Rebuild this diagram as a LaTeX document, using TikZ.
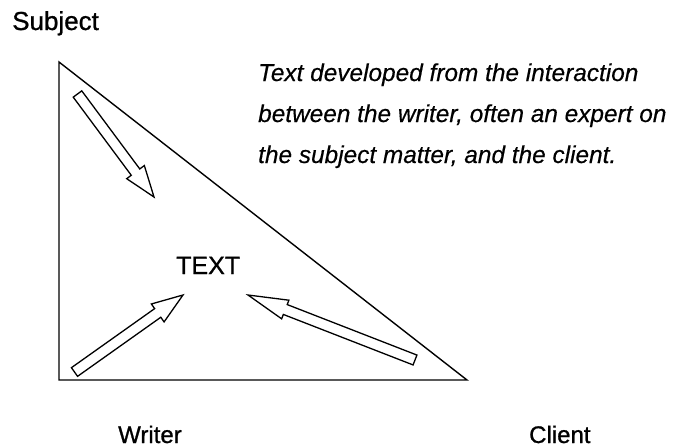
\documentclass[tikz,border=0pt]{standalone}
\usepackage{fontspec}
\setmainfont{Liberation Sans}
\newfontfamily\labelfont[FakeBold=0.9]{Liberation Sans}
\newfontfamily\notefont[FakeBold=0.4, ItalicFont={* Italic}, ItalicFeatures={FakeBold=0.4}]{Liberation Sans}
\usetikzlibrary{calc}
\tikzset{
  outline/.style={draw=black, line width=1.4pt, line join=miter},
  label/.style={inner sep=0pt, anchor=base west, font=\labelfont\fontsize{24}{28}\selectfont},
  note/.style={inner sep=0pt, anchor=base west, font=\notefont\fontsize{24.4}{28}\selectfont\itshape},
}
\newcommand\hollowarrow[4]{% tail, tip, head length, head half width
  \coordinate (hb) at ($(#2)!#3!(#1)$);
  \draw[outline, line width=1.3pt]
    ($(#1)!5.3pt!90:(#2)$) -- ($(hb)!5.3pt!90:(#2)$) -- ($(hb)!#4!90:(#2)$) -- (#2)
    -- ($(hb)!#4!-90:(#2)$) -- ($(hb)!5.3pt!-90:(#2)$) -- ($(#1)!5.3pt!-90:(#2)$) -- cycle;
}
\begin{document}
\begin{tikzpicture}[x=1pt,y=-1pt]
\useasboundingbox (0,0) rectangle (680,447);
% triangle vertices
\coordinate (vS) at (59,62);
\coordinate (vW) at (59,380);
\coordinate (vC) at (467,380);
\draw[outline] (vS) -- (vW) -- (vC) -- cycle;
% labels
\node[label, font=\labelfont\fontsize{26}{30}\selectfont] (subj) at (12,30) {Subject};
\node[label] (writer) at (118,443) {Writer};
\node[label] (client) at (529,443) {Client};
\node[label, font=\labelfont\fontsize{25}{30}\selectfont] (text) at (176,274) {TEXT};
\node[note] (n1) at (258,81) {Text developed from the interaction};
\node[note] (n2) at (258,122) {between the writer, often an expert on};
\node[note] (n3) at (258,163) {the subject matter, and the client.};
% arrows
\coordinate (aSt) at (77.5,94);  \coordinate (aSh) at (154,197);
\coordinate (aWt) at (74.5,372); \coordinate (aWh) at (183,295);
\coordinate (aCt) at (415,360);  \coordinate (aCh) at (248,295);
\hollowarrow{aSt}{aSh}{31pt}{11pt}
\hollowarrow{aWt}{aWh}{31pt}{11pt}
\hollowarrow{aCt}{aCh}{40pt}{10pt}
\end{tikzpicture}
\end{document}
